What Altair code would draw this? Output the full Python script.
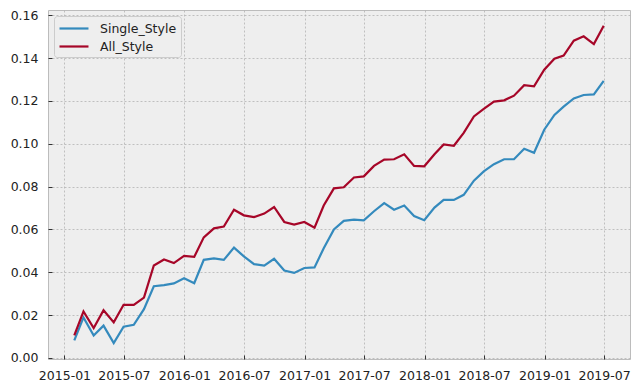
import altair as alt
import pandas as pd

# month-end observation dates (Jan 2015 .. Jun 2019)
dates = pd.date_range("2015-01-31", periods=54, freq="ME").strftime("%Y-%m-%d").tolist()

single_style = [0.0082, 0.0189, 0.0105, 0.0151, 0.0069, 0.0146, 0.0155, 0.0228, 0.0335, 0.0340,
                0.0348, 0.0372, 0.0349, 0.0458, 0.0465, 0.0458, 0.0515, 0.0474, 0.0438, 0.0431,
                0.0463, 0.0408, 0.0397, 0.0420, 0.0423, 0.0512, 0.0600, 0.0640, 0.0646, 0.0643,
                0.0685, 0.0723, 0.0692, 0.0712, 0.0663, 0.0643, 0.0702, 0.0738, 0.0738, 0.0762,
                0.0828, 0.0871, 0.0905, 0.0928, 0.0928, 0.0977, 0.0958, 0.1066, 0.1135, 0.1174,
                0.1212, 0.1228, 0.1231, 0.1294]

all_style = [0.0105, 0.0217, 0.0140, 0.0223, 0.0166, 0.0248, 0.0248, 0.0282, 0.0432, 0.0460,
             0.0443, 0.0477, 0.0472, 0.0563, 0.0605, 0.0614, 0.0692, 0.0666, 0.0658, 0.0674,
             0.0705, 0.0635, 0.0623, 0.0635, 0.0608, 0.0712, 0.0792, 0.0797, 0.0843, 0.0848,
             0.0897, 0.0926, 0.0928, 0.0951, 0.0897, 0.0895, 0.0951, 0.0997, 0.0991, 0.1051,
             0.1128, 0.1163, 0.1197, 0.1203, 0.1225, 0.1274, 0.1269, 0.1346, 0.1397, 0.1412,
             0.1482, 0.1502, 0.1466, 0.1551]

series_names = ["Single_Style", "All_Style"]
series_colors = ["#348ABD", "#A60628"]

y_ticks = [0.00, 0.02, 0.04, 0.06, 0.08, 0.10, 0.12, 0.14, 0.16]
x_ticks = ["2015-01", "2015-07", "2016-01", "2016-07", "2017-01",
           "2017-07", "2018-01", "2018-07", "2019-01", "2019-07"]

df = pd.DataFrame({
    "date": dates * 2,
    "value": single_style + all_style,
    "series": [series_names[0]] * len(dates) + [series_names[1]] * len(dates),
})


def dt(s, day=1):
    y, m = s.split("-")
    return alt.DateTime(year=int(y), month=int(m), date=day, utc=True)


FONT = "DejaVu Sans"

chart = alt.Chart(df).mark_line(strokeWidth=2.2).encode(
    x=alt.X("date:T",
            scale=alt.Scale(type="utc", domain=[dt("2014-11", 12), dt("2019-09", 18)], nice=False),
            axis=alt.Axis(values=[dt(t) for t in x_ticks], format="%Y-%m", title=None,
                          grid=True, gridColor="#b2b2b2", gridDash=[2, 2], gridWidth=0.8,
                          domain=False, ticks=True, tickSize=4, tickColor="#333333",
                          offset=-4, labelPadding=10, labelFlush=False, labelOverlap=False,
                          labelFont=FONT, labelFontSize=12.5, labelColor="#222222")),
    y=alt.Y("value:Q",
            scale=alt.Scale(domain=[-0.0005, 0.1625], nice=False, zero=False),
            axis=alt.Axis(values=y_ticks, format=".2f", title=None,
                          grid=True, gridColor="#b2b2b2", gridDash=[2, 2], gridWidth=0.8,
                          domain=False, ticks=True, tickSize=4, tickColor="#333333",
                          offset=-4, labelPadding=10, labelOverlap=False,
                          labelFont=FONT, labelFontSize=12.5, labelColor="#222222")),
    color=alt.Color("series:N",
                    scale=alt.Scale(domain=series_names, range=series_colors),
                    sort=series_names,
                    legend=alt.Legend(orient="top-left", offset=6, title=None,
                                      symbolType="M-1,0H3.14", symbolSize=196, symbolStrokeWidth=2.2,
                                      labelFont=FONT, labelFontSize=12.5, labelColor="#222222",
                                      labelOffset=25, fillColor="#eeeeee", strokeColor="#cccccc",
                                      cornerRadius=3, padding=4, rowPadding=3)),
).properties(
    width=582,
    height=349,
    autosize=alt.AutoSizeParams(type="none"),
    padding={"left": 40, "top": 2, "right": 2, "bottom": 22},
).configure_view(
    fill="#eeeeee", stroke="#bcbcbc", strokeWidth=1
)

chart.save("out.html", embed_options={"renderer": "svg", "actions": False})
